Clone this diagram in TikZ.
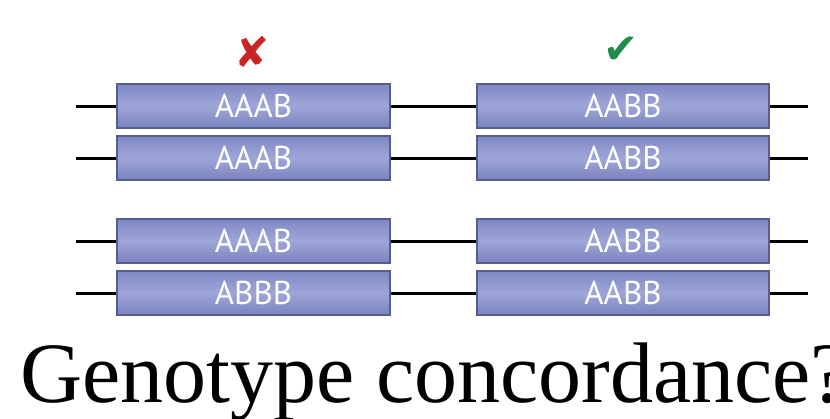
\documentclass[tikz,border=0pt]{standalone}
\usepackage{fontspec}
\setmainfont{Liberation Serif}
\newfontfamily\allelefont{PT Sans}
\newfontfamily\markfont{DejaVu Sans}
\definecolor{genetop}{RGB}{128,136,196}
\definecolor{genemid}{RGB}{158,166,216}
\definecolor{genebot}{RGB}{122,130,190}
\definecolor{geneedge}{RGB}{88,94,140}
\definecolor{crossred}{RGB}{200,36,36}
\definecolor{tickgreen}{RGB}{30,140,74}

\begin{document}
\begin{tikzpicture}[x=1pt,y=-1pt,
  allele/.style={draw=geneedge, line width=1.2pt, top color=genetop,
    bottom color=genebot, middle color=genemid, minimum height=44pt,
    inner sep=0pt, text=white, font=\allelefont\fontsize{33}{33}\selectfont},
  leftbox/.style={allele, minimum width=273pt},
  rightbox/.style={allele, minimum width=292pt},
  wire/.style={line width=3pt, black}]
  \useasboundingbox (0,0) rectangle (830,418);
  % haplotype pairs
  \node[leftbox] (a1) at (253.5,106) {AAAB};
  \node[leftbox] (a2) at (253.5,158) {AAAB};
  \node[leftbox] (a3) at (253.5,241) {AAAB};
  \node[leftbox] (a4) at (253.5,293) {ABBB};
  \node[rightbox] (b1) at (623,106) {AABB};
  \node[rightbox] (b2) at (623,158) {AABB};
  \node[rightbox] (b3) at (623,241) {AABB};
  \node[rightbox] (b4) at (623,293) {AABB};
  % free ends of the strands
  \coordinate (a1w) at (76,106);
  \coordinate (a2w) at (76,158);
  \coordinate (a3w) at (76,241);
  \coordinate (a4w) at (76,293);
  \coordinate (b1e) at (808,106);
  \coordinate (b2e) at (808,158);
  \coordinate (b3e) at (808,241);
  \coordinate (b4e) at (808,293);
  \draw[wire] (a1w) -- (a1) (a1) -- (b1) (b1) -- (b1e);
  \draw[wire] (a2w) -- (a2) (a2) -- (b2) (b2) -- (b2e);
  \draw[wire] (a3w) -- (a3) (a3) -- (b3) (b3) -- (b3e);
  \draw[wire] (a4w) -- (a4) (a4) -- (b4) (b4) -- (b4e);
  % verdicts
  \node[text=crossred, font=\markfont\fontsize{42}{42}\selectfont] (wrong) at (252,52) {✘};
  \node[text=tickgreen, font=\markfont\fontsize{42}{42}\selectfont] (right) at (621,50) {✔};
  \node[anchor=base west, inner sep=0pt, font=\fontsize{86}{86}\selectfont] (title) at (20,402) {Genotype concordance?};
\end{tikzpicture}
\end{document}
